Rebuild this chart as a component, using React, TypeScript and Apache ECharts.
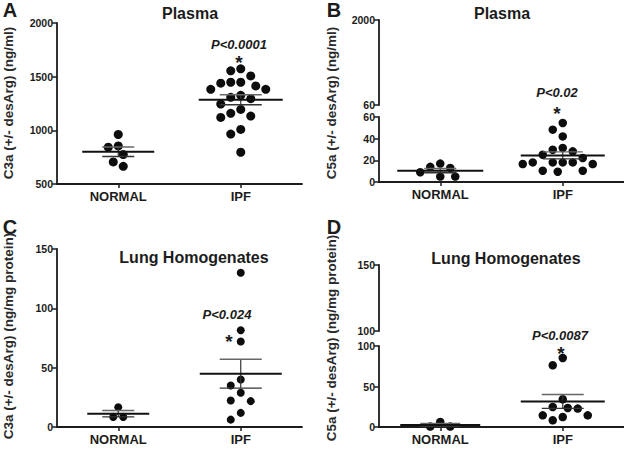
import React, { useEffect, useRef } from "react";
import * as echarts from "echarts";

// ---------------- data ----------------
const groups = ["NORMAL", "IPF"];

// A: C3a plasma (ng/ml)
const c3aPlasmaNormal = [961, 855, 843, 774, 706, 665];
const c3aPlasmaIpf = [1573, 1554, 1507, 1448, 1448, 1439, 1414, 1382, 1382, 1326, 1308, 1295, 1245, 1195, 1158, 1133, 1120, 1008, 965, 796];
// B: C5a plasma (ng/ml)
const c5aPlasmaNormal = [17, 14, 13, 9, 5, 5];
const c5aPlasmaIpf = [54.5, 48.3, 42.1, 31.4, 29.8, 28.3, 25.2, 22.2, 18.1, 18.1, 18.1, 18.1, 16.6, 16.6, 10.4, 10.4, 9.5];
// C: C3a lung homogenates (ng/mg protein)
const c3aLungNormal = [16.7, 8.5, 8.5];
const c3aLungIpf = [130, 81.6, 72, 40, 35, 28.8, 22.3, 21.8, 11.9, 6.2];
// D: C5a lung homogenates (ng/mg protein)
const c5aLungNormal = [6.2, 0.5, 0.5];
const c5aLungIpf = [85.2, 76.2, 34.2, 24.7, 23.5, 22.7, 14.4, 14.4, 12.3, 8.3];

const panelLetters = ["A", "B", "C", "D"];
const panelTitles = ["Plasma", "Plasma", "Lung Homogenates", "Lung Homogenates"];
const pValues = ["P<0.0001", "P<0.02", "P<0.024", "P<0.0087"];
const yTitles = [
  "C3a (+/- desArg) (ng/ml)",
  "C5a (+/- desArg) (ng/ml)",
  "C3a (+/- desArg) (ng/mg protein)",
  "C5a (+/- desArg) (ng/mg protein)",
];
const bUpperTicks = [60, 2000];
const dUpperTicks = [100, 150];

// ---------------- layout / style ----------------
const FONT = "'Liberation Sans', Arial, Helvetica, sans-serif";
const INK = "#1c1c1c";

const grids = [
  { left: 57, top: 23, width: 245, height: 161 }, // 0 A
  { left: 379, top: 20, width: 245, height: 85 }, // 1 B upper
  { left: 379, top: 117, width: 245, height: 65 }, // 2 B lower
  { left: 57, top: 249, width: 245, height: 178 }, // 3 C
  { left: 379, top: 265, width: 245, height: 66 }, // 4 D upper
  { left: 379, top: 346, width: 245, height: 81 }, // 5 D lower
];

const yRanges = [
  { min: 500, max: 2000, interval: 500 },
  { min: 60, max: 2000, custom: bUpperTicks },
  { min: 0, max: 60, interval: 20 },
  { min: 0, max: 150, interval: 50 },
  { min: 100, max: 150, custom: dUpperTicks },
  { min: 0, max: 100, interval: 50 },
];

const dataPanels = [
  { grid: 0, normal: c3aPlasmaNormal, ipf: c3aPlasmaIpf, dot: 9, meanHalf: [36, 42], semHalf: [16, 21] },
  { grid: 2, normal: c5aPlasmaNormal, ipf: c5aPlasmaIpf, dot: 8.5, meanHalf: [43, 42], semHalf: [16, 20] },
  { grid: 3, normal: c3aLungNormal, ipf: c3aLungIpf, dot: 8, meanHalf: [31, 41], semHalf: [16, 21] },
  { grid: 5, normal: c5aLungNormal, ipf: c5aLungIpf, dot: 8.5, meanHalf: [40, 42], semHalf: [20, 21] },
];

function swarmOffsets(values: number[], ppu: number, minDist: number, step: number): number[] {
  const order = values.map((_, i) => i).sort((a, b) => values[b] - values[a]);
  const placed: { x: number; y: number }[] = [];
  const offs = new Array(values.length).fill(0);
  for (const i of order) {
    const y = values[i] * ppu;
    for (let k = 0; k < 60; k++) {
      const o = (k % 2 === 0 ? 1 : -1) * Math.ceil(k / 2) * step;
      if (placed.every((p) => Math.hypot(p.x - o, p.y - y) >= minDist)) {
        offs[i] = o;
        placed.push({ x: o, y });
        break;
      }
    }
  }
  return offs;
}

function stats(v: number[]) {
  const n = v.length;
  const mean = v.reduce((s, x) => s + x, 0) / n;
  const sd = Math.sqrt(v.reduce((s, x) => s + (x - mean) * (x - mean), 0) / (n - 1));
  return { mean, sem: sd / Math.sqrt(n) };
}

function buildOption() {
  const axisLineStyle = { color: INK, width: 1.8 };
  const xAxis = grids.map((_, i) => {
    const hidden = i === 1 || i === 4;
    return {
      type: "category",
      gridIndex: i,
      data: groups,
      show: !hidden,
      boundaryGap: true,
      axisLine: { show: true, onZero: false, lineStyle: axisLineStyle },
      axisTick: { show: true, alignWithLabel: true, length: 4, lineStyle: { color: INK, width: 1.5 } },
      axisLabel: { fontSize: 13, fontWeight: "bold", color: INK, fontFamily: FONT, margin: 6 },
      splitLine: { show: false },
    };
  });
  const yAxis = yRanges.map((r, i) => {
    const ax: any = {
      type: "value",
      gridIndex: i,
      min: r.min,
      max: r.max,
      axisLine: { show: true, lineStyle: axisLineStyle },
      axisTick: { show: true, length: 5, lineStyle: { color: INK, width: 1.5 } },
      axisLabel: {
        fontSize: 10.5,
        fontWeight: "bold",
        color: INK,
        fontFamily: FONT,
        margin: 4,
        formatter: (v: number) => String(v),
      },
      splitLine: { show: false },
    };
    if (r.custom) {
      ax.axisTick.customValues = r.custom;
      ax.axisLabel.customValues = r.custom;
      ax.interval = r.max - r.min;
    } else {
      ax.interval = r.interval;
    }
    return ax;
  });

  const series: any[] = [];
  dataPanels.forEach((p) => {
    const g = grids[p.grid];
    const r = yRanges[p.grid];
    const ppu = g.height / (r.max - r.min);
    const items: any[] = [];
    [p.normal, p.ipf].forEach((vals, cat) => {
      const offs = swarmOffsets(vals, ppu, 10, 5);
      vals.forEach((v, i) => items.push({ value: [cat, v], symbolOffset: [offs[i], 0] }));
    });
    series.push({
      type: "scatter",
      xAxisIndex: p.grid,
      yAxisIndex: p.grid,
      symbol: "circle",
      symbolSize: p.dot,
      itemStyle: { color: "#0d0d0d", opacity: 1 },
      data: items,
      z: 3,
    });
    const st = [stats(p.normal), stats(p.ipf)];
    series.push({
      type: "custom",
      xAxisIndex: p.grid,
      yAxisIndex: p.grid,
      clip: false,
      z: 4,
      encode: { x: 0, y: 1 },
      data: st.map((s, cat) => [cat, s.mean, s.sem]),
      renderItem: (params: any, api: any) => {
        const cat = api.value(0);
        const mean = api.value(1);
        const sem = api.value(2);
        const mh = p.meanHalf[cat];
        const sh = p.semHalf[cat];
        const c = api.coord([cat, mean]);
        const t = api.coord([cat, mean + sem]);
        const b = api.coord([cat, Math.max(mean - sem, r.min)]);
        return {
          type: "group",
          children: [
            { type: "line", shape: { x1: c[0], y1: t[1], x2: c[0], y2: b[1] }, style: { stroke: "#333", lineWidth: 1.2 } },
            { type: "line", shape: { x1: c[0] - sh, y1: t[1], x2: c[0] + sh, y2: t[1] }, style: { stroke: "#666", lineWidth: 1.4 } },
            { type: "line", shape: { x1: c[0] - sh, y1: b[1], x2: c[0] + sh, y2: b[1] }, style: { stroke: "#333", lineWidth: 1.4 } },
            { type: "line", shape: { x1: c[0] - mh, y1: c[1], x2: c[0] + mh, y2: c[1] }, style: { stroke: "#111", lineWidth: 2 } },
          ],
        };
      },
    });
  });

  const txt = (text: string, x: number, y: number, size: number, extra: any = {}) => ({
    type: "text",
    x,
    y,
    rotation: extra.rotation || 0,
    z: 10,
    style: {
      text,
      fill: extra.fill || INK,
      fontSize: size,
      fontWeight: "bold",
      fontStyle: extra.italic ? "italic" : "normal",
      fontFamily: FONT,
      lineHeight: extra.lineHeight,
      textAlign: "center",
      textVerticalAlign: "middle",
      align: "center",
      verticalAlign: "middle",
    },
  });

  const letterPos = [[10, 10], [334, 10], [10, 227], [334, 227]];
  const titlePos = [[190, 13], [502, 13], [194, 257], [506, 258]];
  const pPos = [[239, 44], [557, 92], [227, 314], [560, 335]];
  const starPos = [[239, 62], [557, 113], [229, 341], [561, 353]];
  const yTitlePos = [[8, 103], [331, 103], [8, 336], [331, 338]];

  const graphics: any[] = [];
  for (let i = 0; i < 4; i++) {
    graphics.push(txt(panelLetters[i], letterPos[i][0], letterPos[i][1], 20));
    graphics.push(txt(panelTitles[i], titlePos[i][0], titlePos[i][1], 16));
    graphics.push(txt(pValues[i], pPos[i][0], pPos[i][1], 13, { italic: true, lineHeight: 12 }));
    graphics.push(txt("*", starPos[i][0], starPos[i][1], 19, { lineHeight: 8 }));
    graphics.push(txt(yTitles[i], yTitlePos[i][0], yTitlePos[i][1], 13.5, { rotation: Math.PI / 2, fill: "#2a2a2a" }));
  }

  return {
    animation: false,
    backgroundColor: "#ffffff",
    grid: grids.map((g) => ({ ...g, containLabel: false })),
    xAxis,
    yAxis,
    series,
    graphic: graphics,
  };
}

export default function App() {
  const ref = useRef<HTMLDivElement>(null);
  useEffect(() => {
    if (!ref.current) return;
    const chart = echarts.init(ref.current, undefined, { renderer: "svg" });
    chart.setOption(buildOption() as any);
    return () => chart.dispose();
  }, []);
  return (
    <div
      ref={ref}
      style={{ position: "fixed", left: 0, top: 0, width: 624, height: 449, background: "#fff" }}
    />
  );
}
